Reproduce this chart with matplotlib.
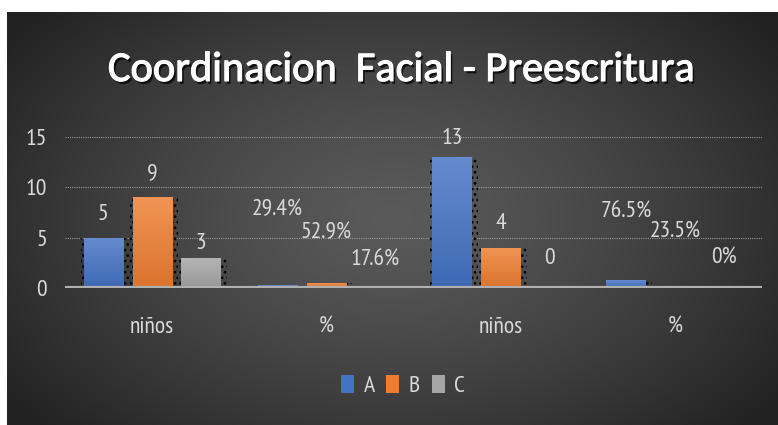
import numpy as np
import matplotlib.pyplot as plt
from matplotlib import patheffects as pe
from matplotlib.patches import Patch
from matplotlib.colors import to_rgb

categories = ["niños", "%", "niños", "%"]
series_names = ["A", "B", "C"]
values_A = [5, 0.294, 13, 0.765]
values_B = [9, 0.529, 4, 0.235]
values_C = [3, 0.176, 0, 0]
labels_A = ["5", "29.4%", "13", "76.5%"]
labels_B = ["9", "52.9%", "4", "23.5%"]
labels_C = ["3", "17.6%", "0", "0%"]
label_y_A = [7.35, 7.75, 14.9, 7.55]
label_y_B = [11.4, 5.46, 6.45, 5.56]
label_y_C = [4.47, 2.78, 2.98, 2.98]
yticks = [0, 5, 10, 15]
title = "Coordinacion  Facial - Preescritura"
colors = ["#4472C4", "#ED7D31", "#A5A5A5"]

FONT = ["PT Sans Narrow", "DejaVu Sans"]
TFONT = ["Carlito", "DejaVu Sans"]
plt.rcParams["font.family"] = FONT
plt.rcParams["hatch.linewidth"] = 1.2
TXT = "#d9d9d9"
FS = 17

W, H = 778, 425
fig = plt.figure(figsize=(W / 100, H / 100), dpi=100, facecolor="white")

# background gradient panel
bg = fig.add_axes([7 / W, 0, (W - 7) / W, (H - 12) / H])
bg.set_axis_off()
ny, nx = 200, 380
yy, xx = np.mgrid[0:1:ny * 1j, 0:1:nx * 1j]
d = np.sqrt(((xx - 0.5) / 0.62) ** 2 + ((yy - 0.5) / 0.75) ** 2)
d = np.clip(d, 0, 1)
c_in = np.array([0x5a, 0x5a, 0x5a]) / 255
c_out = np.array([0x22, 0x22, 0x22]) / 255
img = c_in[None, None, :] * (1 - d[..., None] ** 1.3) + c_out[None, None, :] * (d[..., None] ** 1.3)
bg.imshow(img, aspect="auto", extent=[0, 1, 0, 1], interpolation="bilinear")
bg.set_xlim(0, 1)
bg.set_ylim(0, 1)

# plot area
ax = fig.add_axes([65 / W, (H - 288) / H, (762 - 65) / W, (288 - 137) / H])
ax.patch.set_alpha(0)
ax.set_xlim(-0.5, len(categories) - 0.5)
ax.set_ylim(0, 15)
x = np.arange(len(categories))
step = 0.28
bw = 0.225
series = [values_A, values_B, values_C]
labels = [labels_A, labels_B, labels_C]
label_ys = [label_y_A, label_y_B, label_y_C]
for i, (vals, labs, lys) in enumerate(zip(series, labels, label_ys)):
    xs = x + (i - 1) * step
    # dotted shadow
    ax.bar(xs + 0.012, vals, width=bw + 0.05, facecolor="none", edgecolor="black", lw=0,
           hatch="...", zorder=2)
    bars = ax.bar(xs, vals, width=bw, color=colors[i], zorder=3, label=series_names[i])
    base = np.array(to_rgb(colors[i]))
    top = base + (1 - base) * 0.18
    bot = base * 0.92
    grad = np.linspace(0, 1, 64)[:, None, None]
    gimg = top[None, None, :] * (1 - grad) + bot[None, None, :] * grad
    for b in bars:
        if b.get_height() <= 0:
            continue
        x0, y0 = b.get_x(), b.get_y()
        im = ax.imshow(gimg, extent=[x0, x0 + b.get_width(), y0, y0 + b.get_height()],
                       aspect="auto", zorder=3.1, interpolation="bilinear")
        im.set_clip_path(b)
    for xi, lab, ly in zip(xs, labs, lys):
        ax.text(xi, ly, lab, ha="center", va="center", color=TXT, fontsize=FS,
                clip_on=False, zorder=4)

ax.set_xlim(-0.5, len(categories) - 0.5)
ax.set_ylim(0, 15)
ax.set_yticks(yticks)
ax.set_yticklabels([str(t) for t in yticks], color=TXT, fontsize=FS)
ax.set_xticks(x)
ax.set_xticklabels(categories, color=TXT, fontsize=FS)
ax.tick_params(axis="both", length=0)
ax.tick_params(axis="y", pad=13)
ax.tick_params(axis="x", pad=21)
for s in ax.spines.values():
    s.set_visible(False)
for t in yticks[1:]:
    ax.axhline(t, color="#9a9a9a", lw=0.8, ls=(0, (1, 1)), zorder=1)
ax.axhline(0, color="#b0b0b0", lw=3, zorder=4)

# title
fig.text(401 / W, 1 - 70 / H, title, ha="center", va="center", color="white",
         fontsize=30.5, family=TFONT,
         path_effects=[pe.SimplePatchShadow(offset=(1.5, -2), shadow_rgbFace="black", alpha=0.75),
                       pe.withStroke(linewidth=0.8, foreground="white")])

# legend
handles = [Patch(facecolor=c, edgecolor="none") for c in colors]
leg = fig.legend(handles, series_names, loc="center", bbox_to_anchor=(403 / W, 1 - 386 / H),
                 ncol=3, frameon=False, fontsize=FS, handlelength=0.55, handleheight=0.8,
                 handletextpad=0.4, columnspacing=0.5, labelcolor=TXT)

fig.savefig("out.png", dpi=100, facecolor="white")
